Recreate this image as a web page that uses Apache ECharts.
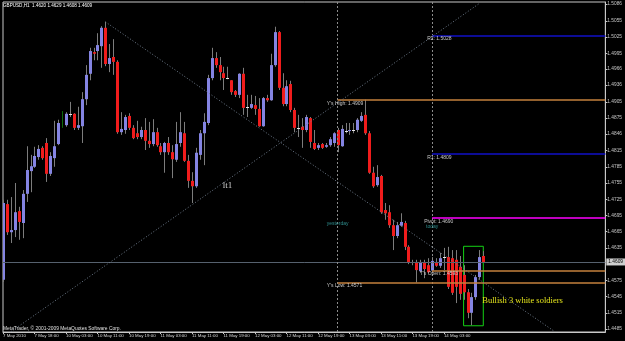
<!DOCTYPE html>
<html><head><meta charset="utf-8">
<script src="https://cdn.jsdelivr.net/npm/echarts@6/dist/echarts.min.js"></script>
<style>html,body{margin:0;padding:0;background:#000;}#c{width:625px;height:341px;}</style>
</head><body><div id="c"></div>
<script>
// ---------- DATA ----------
const symbolName = 'GBPUSD,H1';
const timeLabels = ['7 May 2010','7 May 18:00','10 May 03:00','10 May 11:00','10 May 19:00','11 May 03:00','11 May 11:00','11 May 19:00','12 May 03:00','12 May 11:00','12 May 19:00','13 May 03:00','13 May 11:00','13 May 19:00','14 May 03:00','14 May 11:00'];
const labelStep = 8;        // one time label every 8 hourly bars
const slotCount = 154;      // bar slots on the time axis (incl. empty right margin)
const open = [1.4576,1.4716,1.4664,1.4668,1.4703,1.4681,1.4735,1.4777,1.4785,1.4803,1.4820,1.4829,1.4772,1.4801,1.4827,1.4866,1.4862,1.4883,1.4883,1.4857,1.4860,1.4910,1.4957,1.4997,1.4999,1.5008,1.5042,1.4975,1.4988,1.4979,1.4849,1.4853,1.4879,1.4857,1.4847,1.4840,1.4853,1.4833,1.4827,1.4849,1.4823,1.4812,1.4829,1.4812,1.4798,1.4829,1.4847,1.4796,1.4759,1.4749,1.4807,1.4847,1.4866,1.4949,1.4986,1.4973,1.4958,1.4949,1.4945,1.4925,1.4918,1.4957,1.4896,1.4894,1.4899,1.4892,1.4860,1.4912,1.4908,1.4973,1.5034,1.4931,1.4901,1.4938,1.4890,1.4857,1.4859,1.4853,1.4875,1.4829,1.4820,1.4827,1.4822,1.4825,1.4829,1.4853,1.4823,1.4851,1.4851,1.4853,1.4853,1.4870,1.4881,1.4847,1.4774,1.4751,1.4768,1.4705,1.4701,1.4677,1.4657,1.4676,1.4681,1.4637,1.4609,1.4609,1.4592,1.4609,1.4603,1.4593,1.4609,1.4602,1.4618,1.4618,1.4616,1.4613,1.4600,1.4585,1.4553,1.4515,1.4544,1.4581,1.4620];
const high = [1.4724,1.4724,1.4729,1.4755,1.4711,1.4742,1.4823,1.4807,1.4822,1.4825,1.4823,1.4838,1.4812,1.4870,1.4872,1.4888,1.4886,1.4905,1.4884,1.4896,1.4923,1.4973,1.5005,1.5005,1.5032,1.5045,1.5053,1.5012,1.5021,1.4982,1.4886,1.4881,1.4884,1.4862,1.4870,1.4859,1.4875,1.4868,1.4873,1.4857,1.4829,1.4831,1.4840,1.4825,1.4868,1.4886,1.4868,1.4807,1.4775,1.4820,1.4853,1.4884,1.4955,1.5005,1.4997,1.4988,1.4970,1.4970,1.4945,1.4927,1.4958,1.4968,1.4918,1.4918,1.4916,1.4912,1.4914,1.4918,1.4994,1.5044,1.5036,1.4958,1.4945,1.4944,1.4894,1.4881,1.4875,1.4881,1.4877,1.4853,1.4829,1.4829,1.4829,1.4840,1.4849,1.4857,1.4862,1.4866,1.4866,1.4866,1.4875,1.4886,1.4909,1.4851,1.4785,1.4788,1.4770,1.4718,1.4714,1.4687,1.4683,1.4699,1.4685,1.4640,1.4613,1.4613,1.4613,1.4613,1.4616,1.4618,1.4616,1.4626,1.4635,1.4637,1.4631,1.4631,1.4620,1.4603,1.4559,1.4552,1.4585,1.4631,1.4629];
const low = [1.4572,1.4659,1.4644,1.4655,1.4650,1.4653,1.4720,1.4738,1.4783,1.4798,1.4798,1.4757,1.4768,1.4785,1.4825,1.4857,1.4859,1.4877,1.4853,1.4853,1.4829,1.4899,1.4945,1.4982,1.4982,1.4968,1.4971,1.4960,1.4955,1.4846,1.4844,1.4846,1.4853,1.4836,1.4836,1.4836,1.4816,1.4820,1.4823,1.4822,1.4807,1.4774,1.4807,1.4764,1.4794,1.4822,1.4794,1.4746,1.4718,1.4746,1.4798,1.4788,1.4862,1.4945,1.4968,1.4945,1.4927,1.4947,1.4918,1.4914,1.4912,1.4881,1.4877,1.4892,1.4881,1.4859,1.4859,1.4905,1.4907,1.4970,1.4927,1.4897,1.4897,1.4886,1.4849,1.4840,1.4820,1.4849,1.4820,1.4816,1.4816,1.4818,1.4820,1.4822,1.4822,1.4812,1.4822,1.4847,1.4844,1.4847,1.4849,1.4868,1.4844,1.4772,1.4746,1.4748,1.4698,1.4687,1.4672,1.4631,1.4653,1.4674,1.4631,1.4605,1.4603,1.4571,1.4589,1.4579,1.4588,1.4589,1.4600,1.4598,1.4594,1.4559,1.4548,1.4533,1.4539,1.4539,1.4505,1.4492,1.4539,1.4576,1.4608];
const close = [1.4718,1.4664,1.4668,1.4701,1.4683,1.4735,1.4779,1.4786,1.4805,1.4818,1.4801,1.4772,1.4805,1.4823,1.4866,1.4866,1.4883,1.4883,1.4857,1.4862,1.4910,1.4955,1.4999,1.4994,1.5010,1.5042,1.4975,1.4986,1.4979,1.4849,1.4855,1.4877,1.4857,1.4838,1.4840,1.4853,1.4833,1.4827,1.4849,1.4825,1.4812,1.4829,1.4812,1.4799,1.4827,1.4849,1.4796,1.4759,1.4749,1.4811,1.4847,1.4868,1.4949,1.4986,1.4973,1.4960,1.4949,1.4949,1.4923,1.4918,1.4957,1.4894,1.4896,1.4901,1.4892,1.4860,1.4912,1.4908,1.4973,1.5034,1.4931,1.4901,1.4934,1.4890,1.4857,1.4857,1.4853,1.4877,1.4831,1.4818,1.4825,1.4820,1.4825,1.4836,1.4847,1.4825,1.4855,1.4851,1.4853,1.4853,1.4872,1.4879,1.4847,1.4774,1.4749,1.4766,1.4701,1.4699,1.4677,1.4657,1.4677,1.4683,1.4637,1.4609,1.4609,1.4594,1.4609,1.4596,1.4590,1.4611,1.4602,1.4616,1.4618,1.4563,1.4552,1.4563,1.4550,1.4553,1.4515,1.4544,1.4581,1.4618,1.4609];
const lineModeBars = [15];   // bar drawn as a plain line in the original
const priceTicks = [1.5086,1.5055,1.5025,1.4995,1.4966,1.4936,1.4905,1.4875,1.4846,1.4815,1.4785,1.4755,1.4725,1.4695,1.4665,1.4635,1.4575,1.4545,1.4515,1.4485];
const priceMin = 1.44795, priceMax = 1.50897;
const bidPrice = 1.4609;
const yesterdayIdx = 85, todayIdx = 109;
const pivotNames = ['R2','R1','Pivot'];
const pivotValues = [1.5028, 1.4809, 1.4690];
const yNames = ["Y's High","Y's Low"];
const yValues = [1.4909, 1.4571];
const todayOpenName = "T's Open", todayOpen = 1.4593;
const trendlines = [[[26,1.5053],[140,1.4481]], [[2,1.4480],[121,1.5087]]];
const trendName = 'lt1', trendNamePos = [57, 1.4751];
const patternBox = [[117,1.4638],[122,1.4491]];
const patternText = 'Bullish 3 white soldiers', patternTextPos = [122, 1.4537];

// ---------- CHART ----------
const FONT = 'Liberation Sans';
const txt = '#c8c8c8';
const chart = echarts.init(document.getElementById('c'), null, {renderer:'canvas'});
const lastIdx = open.length - 1;
const candleData = open.map((o,i)=>[i,o,close[i],low[i],high[i]]);
const labelShow = (idx)=> idx % labelStep === 0 && idx/labelStep < timeLabels.length;

function renderCandle(params, api){
  const i = api.value(0), o = api.value(1), c = api.value(2), l = api.value(3), h = api.value(4);
  const pO = api.coord([i,o]), pC = api.coord([i,c]), pL = api.coord([i,l]), pH = api.coord([i,h]);
  const x = Math.round(pO[0]);
  const top = Math.min(pO[1],pC[1]), bot = Math.max(pO[1],pC[1]);
  const special = lineModeBars.indexOf(i) >= 0;
  const ch = [{type:'line', shape:{x1:x+0.5,y1:pH[1],x2:x+0.5,y2:pL[1]}, style:{stroke: special?'#0d6a0d':'#7c7c7c', lineWidth:1}}];
  if (special) {
    // drawn as a line only
  } else if (Math.abs(pO[1]-pC[1]) < 1) {
    ch.push({type:'line', shape:{x1:x-1,y1:Math.round(top)+0.5,x2:x+2,y2:Math.round(top)+0.5}, style:{stroke:'#e6e6e6', lineWidth:1}});
  } else {
    const up = c > o;
    ch.push({type:'rect', shape:{x:x-1,y:top,width:3,height:bot-top}, style:{fill: up?'#8484e2':'#f01c1c'}});
  }
  return {type:'group', children: ch};
}

const lbl = (extra)=> Object.assign({show:true, position:'right', distance:0, color:txt, fontSize:5, fontFamily:FONT, formatter:'{b}'}, extra);

const markLines = [];
markLines.push([{coord:[0,bidPrice], lineStyle:{color:'#56616e', width:1, type:'solid'},
  label:{show:true, position:'end', distance:1, formatter: bidPrice.toFixed(4), color:'#000', backgroundColor:'#cfcfcf', fontSize:4.8, fontFamily:FONT, padding:[1,2,1,2]}},
  {coord:[slotCount-1,bidPrice]}]);
[yesterdayIdx, todayIdx].forEach(ix=>markLines.push([{coord:[ix,priceMax], lineStyle:{color:'#8c8c8c', width:1, type:[2,2]}},{coord:[ix,priceMin]}]));
pivotValues.forEach((v,k)=>markLines.push([{coord:[todayIdx,v], lineStyle:{color: pivotNames[k]==='Pivot'?'#ff00ff':'#0c0c96', width: pivotNames[k]==='Pivot'?1.5:2, type:'solid'}},{coord:[slotCount-1,v]}]));
yValues.forEach(v=>markLines.push([{coord:[yesterdayIdx,v], lineStyle:{color:'#c4803c', width:1.5, type:'solid'}},{coord:[slotCount-1,v]}]));
markLines.push([{coord:[todayIdx,todayOpen], lineStyle:{color:'#c4803c', width:1.5, type:'solid'}},{coord:[slotCount-1,todayOpen]}]);
trendlines.forEach(t=>markLines.push([{coord:t[0], lineStyle:{color:'#6f7c8c', width:1, type:[1,2]}},{coord:t[1]}]));

const markPoints = [];
pivotValues.forEach((v,k)=>markPoints.push({name: pivotNames[k]+': '+v.toFixed(4), coord:[todayIdx-1, v], label: lbl({offset:[pivotNames[k]==='Pivot'?-4:-1, 3.5]})}));
yNames.forEach((n,k)=>markPoints.push({name: n+': '+yValues[k].toFixed(4), coord:[yesterdayIdx-2, yValues[k]], label: lbl({offset:[-3,3.5]})}));
markPoints.push({name: todayOpenName+': '+todayOpen.toFixed(4), coord:[todayIdx-3, todayOpen], label: lbl({offset:[-0.5,3.5]})});
markPoints.push({name:'yesterday', coord:[yesterdayIdx, 1.4679], label: lbl({position:'inside', color:'#2f8f8f', offset:[0,0]})});
markPoints.push({name:'today', coord:[todayIdx, 1.4675], label: lbl({position:'inside', color:'#2f8f8f', offset:[0,0]})});
markPoints.push({name: trendName, coord: trendNamePos, label: lbl({position:'inside', color:'#d0d0d0', fontSize:9, fontFamily:'Liberation Serif'})});
markPoints.push({name: patternText, coord: patternTextPos, label: lbl({color:'#e4e41c', fontSize:8.5, fontFamily:'Liberation Serif', offset:[-1,0]})});

const option = {
  backgroundColor:'#000',
  animation:false,
  grid:{left:2, right:18.5, top:2, bottom:9, show:true, borderColor:'#c8c8c8', borderWidth:1, backgroundColor:'transparent'},
  xAxis:{type:'category', boundaryGap:false, data: Array.from({length:slotCount},(_,i)=>i),
    axisLine:{show:true, lineStyle:{color:'#c8c8c8', width:1}},
    axisTick:{show:true, interval:(i)=>labelShow(i), length:2, lineStyle:{color:'#c8c8c8'}},
    axisLabel:{show:true, interval:(i)=>labelShow(i), formatter:(v,i)=>timeLabels[i/labelStep], align:'left', margin:2, color:'#d8d8d8', fontSize:4.4, fontFamily:FONT, showMaxLabel:false, hideOverlap:false},
    splitLine:{show:false}},
  yAxis:{type:'value', position:'right', min:priceMin, max:priceMax, scale:true,
    axisLine:{show:true, lineStyle:{color:'#c8c8c8', width:1}},
    axisTick:{show:true, length:2, customValues: priceTicks, lineStyle:{color:'#c8c8c8'}},
    axisLabel:{show:true, customValues: priceTicks, formatter:(v)=>v.toFixed(4), margin:2, color:txt, fontSize:4.8, fontFamily:FONT, showMinLabel:true, showMaxLabel:true},
    splitLine:{show:false}},
  graphic:[
    {type:'text', left:3, top:3, style:{text: symbolName+'  '+open[lastIdx].toFixed(4)+' '+high[lastIdx].toFixed(4)+' '+low[lastIdx].toFixed(4)+' '+close[lastIdx].toFixed(4), fill:'#ffffff', font:'4.6px '+FONT}},
    {type:'text', left:3, top:326, style:{text:'MetaTrader, © 2001-2009 MetaQuotes Software Corp.', fill:'#e0e0e0', font:'4.9px '+FONT}}
  ],
  series:[{
    type:'custom', name:'candles', renderItem: renderCandle, data: candleData, encode:{x:0, y:[1,2,3,4]}, clip:true, z:3,
    markLine:{silent:true, symbol:['none','none'], label:{show:false}, data: markLines, animation:false},
    markPoint:{silent:true, symbol:'circle', symbolSize:0, data: markPoints, animation:false},
    markArea:{silent:true, itemStyle:{color:'rgba(0,0,0,0)', borderColor:'#14d214', borderWidth:1}, data:[[{coord:patternBox[0]},{coord:patternBox[1]}]], animation:false}
  }]
};
chart.setOption(option);
</script>
</body></html>
